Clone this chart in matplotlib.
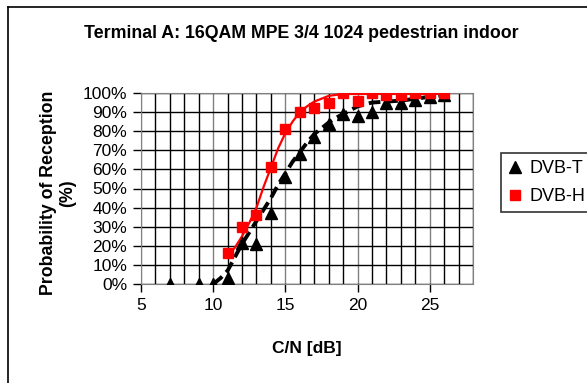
import matplotlib
matplotlib.use('Agg')
import matplotlib.pyplot as plt
from matplotlib.ticker import MultipleLocator, PercentFormatter
from matplotlib.lines import Line2D

plt.rcParams['font.family'] = ['Liberation Sans', 'DejaVu Sans']

# measured points
cn = [7, 9, 10, 11, 12, 13, 14, 15, 16, 17, 18, 19, 20, 21, 22, 23, 24, 25, 26]
dvbt = [0, 0, 0, 0.03, 0.215, 0.21, 0.37, 0.56, 0.68, 0.77, 0.84, 0.89, 0.88,
        0.90, 0.95, 0.95, 0.965, 0.98, 0.99]
cn_h = [11, 12, 13, 14, 15, 16, 17, 18, 19, 20, 21, 22, 23, 24, 25, 26]
dvbh = [0.16, 0.30, 0.36, 0.61, 0.81, 0.90, 0.92, 0.95, 1.0, 0.96, 1.0, 0.99,
        0.99, 1.0, 1.0, 1.0]

# trend curves
trend_t_x = [10, 10.5, 11, 11.5, 12, 12.5, 13, 13.5, 14, 14.5, 15, 15.5, 16, 16.5,
             17, 17.5, 18, 18.5, 19, 20, 21, 22, 23, 24, 25, 26]
trend_t_y = [0.0, 0.03, 0.07, 0.14, 0.21, 0.27, 0.33, 0.39, 0.45, 0.52, 0.58, 0.64,
             0.69, 0.74, 0.785, 0.815, 0.845, 0.87, 0.89, 0.93, 0.95, 0.955, 0.96,
             0.97, 0.98, 0.99]
trend_h_x = [11, 11.5, 12, 12.5, 13, 13.5, 14, 14.5, 15, 15.5, 16, 16.5, 17, 17.5,
             18, 19, 20, 21, 22, 23, 24, 25, 26]
trend_h_y = [0.15, 0.19, 0.25, 0.32, 0.40, 0.51, 0.61, 0.71, 0.79, 0.85, 0.90, 0.93,
             0.955, 0.97, 0.985, 0.995, 0.995, 0.995, 0.995, 0.995, 0.995, 0.995, 0.995]

fig = plt.figure(figsize=(5.87, 3.83), dpi=100)
ax = fig.add_axes([141/587, 1-284/383, 332/587, 191/383])

ax.plot(trend_t_x, trend_t_y, color='black', lw=2.8, ls=(0, (3, 1.5)), zorder=3)
ax.plot(trend_h_x, trend_h_y, color='#ff0000', lw=1.6, zorder=3)
ax.plot(cn, dvbt, ls='none', marker='^', ms=8, color='black', zorder=4)
ax.plot(cn_h, dvbh, ls='none', marker='s', ms=7.5, color='#ff0000', zorder=4)

ax.set_xlim(5, 28)
ax.set_ylim(0, 1)
ax.xaxis.set_major_locator(MultipleLocator(5))
ax.xaxis.set_minor_locator(MultipleLocator(1))
ax.yaxis.set_major_locator(MultipleLocator(0.1))
ax.yaxis.set_major_formatter(PercentFormatter(1.0, decimals=0))
ax.grid(which='minor', axis='x', color='black', lw=1)
ax.grid(which='major', axis='x', color='#808080', lw=1)
ax.grid(which='major', axis='y', color='black', lw=1)
ax.set_axisbelow(True)
ax.tick_params(axis='x', which='minor', length=0)
ax.tick_params(axis='both', which='major', length=6, width=1, labelsize=12.5,
               direction='out', pad=4)
for s in ax.spines.values():
    s.set_color('#808080')

fig.text(301/587, 1-33/383, 'Terminal A: 16QAM MPE 3/4 1024 pedestrian indoor',
         ha='center', va='center', fontsize=12.8, fontweight='bold')
fig.text(58/587, 1-193/383, 'Probability of Reception\n(%)', rotation=90,
         ha='center', va='center', fontsize=12.8, fontweight='bold', linespacing=1.1)
fig.text(307/587, 1-349/383, 'C/N [dB]', ha='center', va='center',
         fontsize=12.5, fontweight='bold')

# outer chart border (top and left only visible)
fig.add_artist(Line2D([8/587, 1], [1-7/383, 1-7/383], color='black', lw=1.2))
fig.add_artist(Line2D([8/587, 8/587], [0, 1-7/383], color='black', lw=1.2))

handles = [Line2D([], [], ls='none', marker='^', ms=8, color='black'),
           Line2D([], [], ls='none', marker='s', ms=7.5, color='#ff0000')]
leg = fig.legend(handles, ['DVB-T', 'DVB-H'], loc='upper left',
                 bbox_to_anchor=(501/587, 1-153/383), fontsize=13,
                 frameon=True, fancybox=False, shadow=False, handlelength=0.8,
                 handletextpad=0.4, borderpad=0.4, labelspacing=0.6,
                 borderaxespad=0)
leg.get_frame().set_edgecolor('black')
leg.get_frame().set_linewidth(1.2)

fig.savefig('out.png', dpi=100)
